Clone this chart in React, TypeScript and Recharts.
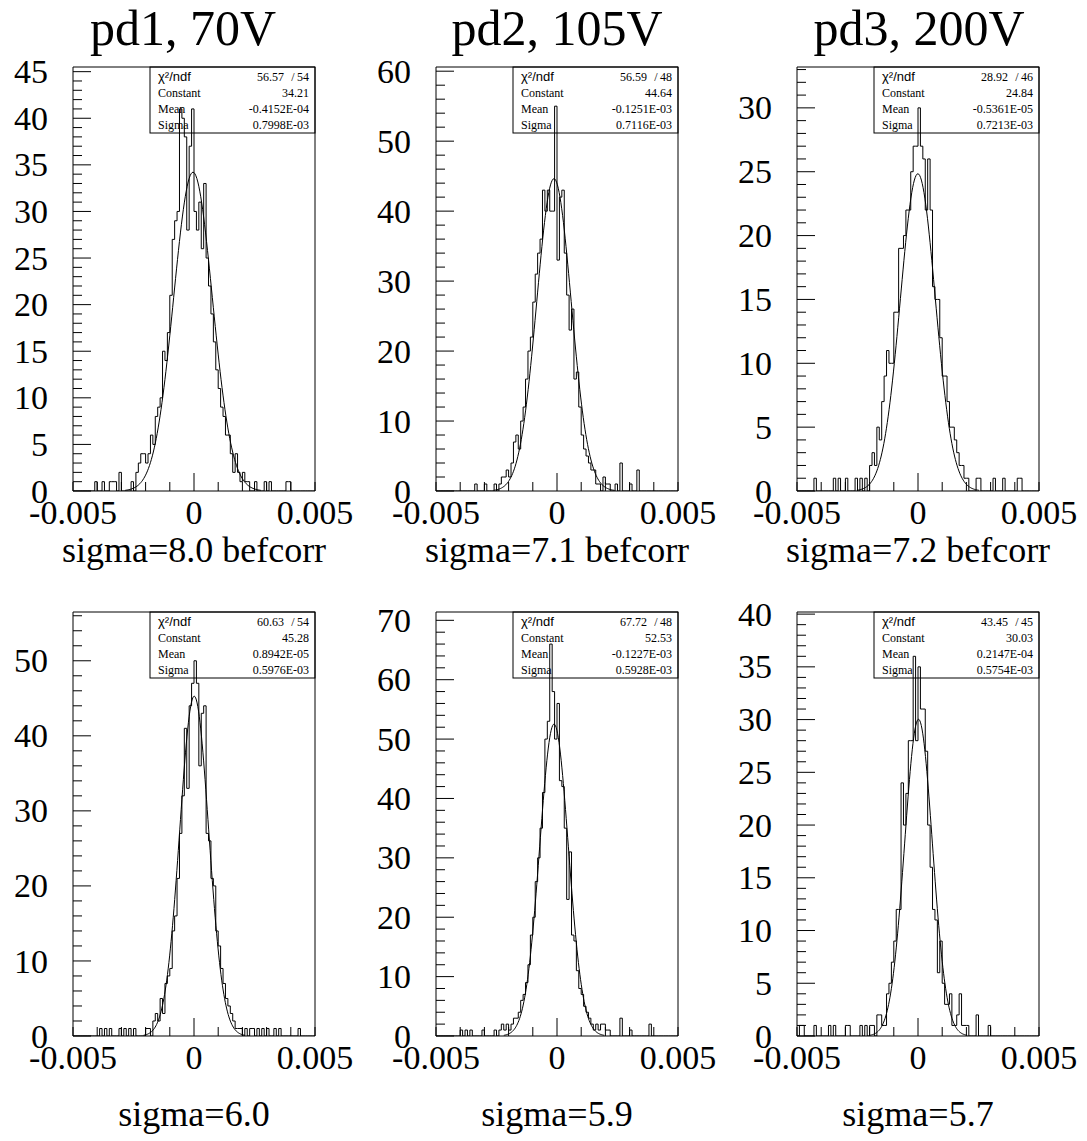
import React from 'react'
import { ComposedChart, Line, XAxis, YAxis, ReferenceArea } from 'recharts'

// bin contents, 100 bins of 0.0001 from -0.005 to 0.005
const pd1Before = [
  0, 0, 0, 0, 0, 0, 0, 0, 0, 1,
  0, 0, 1, 0, 0, 1, 1, 1, 0, 2,
  0, 0, 0, 0, 1, 0, 2, 3, 4, 4,
  3, 4, 6, 5, 8, 9, 10, 15, 14, 17,
  21, 27, 29, 30, 41, 40, 38, 28, 37, 41,
  30, 28, 31, 26, 33, 25, 22, 19, 16, 13,
  11, 9, 8, 6, 6, 4, 2, 4, 2, 1,
  2, 1, 1, 0, 0, 1, 0, 0, 0, 1,
  0, 1, 0, 0, 0, 0, 0, 0, 1, 1,
  0, 0, 0, 0, 0, 0, 0, 0, 0, 0,
]
const pd2Before = [
  0, 0, 0, 0, 0, 0, 0, 0, 0, 0,
  0, 0, 0, 0, 0, 0, 1, 0, 0, 0,
  1, 0, 0, 0, 1, 0, 1, 2, 2, 3,
  2, 4, 7, 8, 6, 10, 12, 16, 20, 22,
  27, 31, 34, 36, 43, 40, 43, 40, 40, 55,
  33, 42, 43, 34, 28, 23, 26, 16, 17, 12,
  8, 6, 5, 4, 3, 3, 1, 1, 0, 2,
  1, 1, 0, 0, 1, 0, 4, 0, 0, 0,
  1, 0, 0, 3, 0, 0, 0, 0, 0, 0,
  0, 0, 0, 0, 0, 0, 0, 0, 0, 0,
]
const pd3Before = [
  0, 0, 0, 0, 0, 0, 0, 1, 0, 0,
  0, 0, 0, 0, 0, 1, 0, 1, 0, 0,
  1, 0, 0, 0, 1, 0, 1, 0, 1, 0,
  2, 3, 2, 5, 4, 7, 9, 11, 10, 10,
  14, 14, 19, 19, 20, 22, 22, 25, 27, 27,
  30, 27, 26, 22, 26, 22, 16, 15, 15, 12,
  9, 9, 7, 5, 5, 4, 3, 2, 2, 1,
  1, 0, 0, 0, 1, 1, 0, 0, 0, 0,
  0, 1, 0, 0, 0, 1, 0, 0, 0, 0,
  0, 1, 1, 0, 0, 0, 0, 0, 0, 0,
]
const pd1After = [
  0, 0, 0, 0, 0, 0, 0, 0, 0, 0,
  0, 1, 0, 1, 0, 1, 0, 0, 0, 1,
  0, 1, 0, 1, 0, 1, 0, 0, 0, 0,
  1, 1, 0, 2, 3, 2, 5, 3, 7, 8,
  9, 14, 16, 21, 27, 32, 41, 33, 44, 47,
  50, 47, 36, 43, 44, 27, 26, 21, 20, 14,
  12, 9, 7, 5, 4, 3, 2, 1, 1, 1,
  0, 1, 0, 1, 1, 0, 1, 0, 1, 0,
  1, 0, 0, 1, 0, 1, 0, 0, 0, 0,
  0, 0, 0, 1, 0, 0, 0, 0, 0, 0,
]
const pd2After = [
  0, 0, 0, 0, 0, 0, 0, 0, 0, 0,
  1, 0, 1, 0, 1, 0, 0, 0, 0, 1,
  0, 0, 0, 0, 1, 0, 1, 2, 1, 2,
  1, 2, 3, 3, 4, 6, 7, 9, 12, 17,
  20, 26, 30, 35, 41, 50, 53, 66, 58, 50,
  56, 43, 42, 35, 23, 31, 17, 16, 11, 8,
  7, 5, 4, 3, 2, 1, 2, 1, 2, 2,
  1, 1, 0, 0, 0, 0, 3, 0, 0, 0,
  1, 0, 0, 0, 0, 0, 0, 0, 2, 0,
  0, 0, 0, 0, 0, 0, 0, 0, 0, 0,
]
const pd3After = [
  0, 1, 1, 0, 0, 0, 0, 1, 0, 0,
  0, 0, 0, 1, 0, 1, 0, 0, 0, 0,
  1, 1, 0, 0, 0, 0, 1, 0, 1, 0,
  1, 1, 0, 2, 2, 1, 1, 4, 5, 7,
  9, 12, 12, 24, 20, 23, 28, 28, 36, 28,
  35, 31, 31, 27, 20, 16, 12, 11, 6, 9,
  5, 3, 3, 4, 1, 1, 2, 4, 1, 1,
  1, 0, 0, 0, 2, 0, 0, 0, 0, 1,
  0, 0, 0, 0, 0, 0, 0, 0, 0, 0,
  0, 0, 0, 0, 0, 0, 0, 0, 0, 0,
]

const histograms = [pd1Before, pd2Before, pd3Before, pd1After, pd2After, pd3After]
const titles = ['pd1, 70V', 'pd2, 105V', 'pd3, 200V']
const titleCenters = [183, 557, 919]
const captions = ['sigma=8.0 befcorr', 'sigma=7.1 befcorr', 'sigma=7.2 befcorr', 'sigma=6.0', 'sigma=5.9', 'sigma=5.7']
const chi2 = ['56.57', '56.59', '28.92', '60.63', '67.72', '43.45']
const ndf = ['54', '48', '46', '54', '48', '45']
const constants = ['34.21', '44.64', '24.84', '45.28', '52.53', '30.03']
const means = ['-0.4152E-04', '-0.1251E-03', '-0.5361E-05', '0.8942E-05', '-0.1227E-03', '0.2147E-04']
const sigmas = ['0.7998E-03', '0.7116E-03', '0.7213E-03', '0.5976E-03', '0.5928E-03', '0.5754E-03']
const yMax = [45.5, 60.6, 33.2, 56.5, 71.4, 40.2]
const yMajorStep = [5, 10, 5, 10, 10, 5]
const yMinorStep = [1, 2, 1, 2, 2, 1]
const xTicks = [-0.005, -0.004, -0.003, -0.002, -0.001, 0, 0.001, 0.002, 0.003, 0.004, 0.005]

const X_MIN = -0.005
const X_MAX = 0.005
const BIN_W = 0.0001

// page geometry
const frameLefts = [73, 436, 797]
const frameTops = [67, 612]
const FRAME_W = 242
const FRAME_H = 424
const Y_W = 70
const M_TOP = 26
const M_RIGHT = 46
const X_H = 56
const SERIF = '"Liberation Serif", "Times New Roman", serif'
const SANS = '"Liberation Sans", Arial, sans-serif'

function xLabel(v: number) {
  if (Math.abs(v) < 1e-9) return '0'
  if (Math.abs(v + 0.005) < 1e-9) return '-0.005'
  if (Math.abs(v - 0.005) < 1e-9) return '0.005'
  return ''
}

function Panel({ idx }: { idx: number }) {
  const col = idx % 3
  const row = Math.floor(idx / 3)
  const counts = histograms[idx]
  const hist = counts.map((h, i) => ({ x: X_MIN + i * BIN_W, h }))
  hist.push({ x: X_MAX, h: counts[counts.length - 1] })

  // gaussian fit drawn from the fitted parameters in the stats box
  const A = parseFloat(constants[idx])
  const mu = parseFloat(means[idx])
  const sg = parseFloat(sigmas[idx])
  const fit = []
  for (let k = 0; k <= 140; k++) {
    const x = mu - 3.5 * sg + (7 * sg * k) / 140
    fit.push({ x, f: A * Math.exp(-0.5 * ((x - mu) / sg) ** 2) })
  }

  const ticksY: number[] = []
  for (let v = 0; v <= yMax[idx] + 1e-9; v += yMinorStep[idx]) ticksY.push(v)

  const plotBottom = M_TOP + FRAME_H

  const renderXTick = (props: any) => {
    const { x, payload } = props
    const v = payload.value
    const lab = xLabel(v)
    const len = lab === '0' ? 18 : 9
    return (
      <g>
        <line x1={x} y1={plotBottom} x2={x} y2={plotBottom - len} stroke="#000" strokeWidth={1} />
        {lab && (
          <text x={x} y={plotBottom + 33} textAnchor="middle" fontFamily={SERIF} fontSize={34} fill="#000">
            {lab}
          </text>
        )}
      </g>
    )
  }

  const renderYTick = (props: any) => {
    const { y, payload } = props
    const v = payload.value
    const major = Math.abs(v / yMajorStep[idx] - Math.round(v / yMajorStep[idx])) < 1e-6
    return (
      <g>
        <line x1={Y_W} y1={y} x2={Y_W + (major ? 18 : 9)} y2={y} stroke="#000" strokeWidth={1} />
        {major && (
          <text x={Y_W - 25} y={y} dy="0.34em" textAnchor="end" fontFamily={SERIF} fontSize={34} fill="#000">
            {Math.round(v)}
          </text>
        )}
      </g>
    )
  }

  return (
    <div style={{ position: 'absolute', left: frameLefts[col] - Y_W, top: frameTops[row] - M_TOP }}>
      <ComposedChart
        width={Y_W + FRAME_W + M_RIGHT}
        height={M_TOP + FRAME_H + X_H}
        margin={{ top: M_TOP, right: M_RIGHT, bottom: 0, left: 0 }}
      >
        <XAxis
          type="number"
          dataKey="x"
          domain={[X_MIN, X_MAX]}
          ticks={xTicks}
          interval={0}
          tick={renderXTick}
          tickLine={false}
          axisLine={false}
          height={X_H}
          allowDataOverflow
        />
        <YAxis
          type="number"
          domain={[0, yMax[idx]]}
          ticks={ticksY}
          interval={0}
          tick={renderYTick}
          tickLine={false}
          axisLine={false}
          width={Y_W}
          allowDataOverflow
        />
        <ReferenceArea x1={X_MIN} x2={X_MAX} y1={0} y2={yMax[idx]} fill="none" stroke="#000" strokeWidth={1} />
        <Line data={hist} dataKey="h" type="stepAfter" stroke="#000" strokeWidth={1} dot={false} isAnimationActive={false} />
        <Line data={fit} dataKey="f" type="linear" stroke="#000" strokeWidth={1} dot={false} isAnimationActive={false} />
      </ComposedChart>
    </div>
  )
}

function StatsBox({ idx }: { idx: number }) {
  const col = idx % 3
  const row = Math.floor(idx / 3)
  const right = frameLefts[col] + FRAME_W
  const left = frameLefts[col] + 77
  const top = frameTops[row]
  const fs = 12
  return (
    <g>
      <rect x={left} y={top} width={right - left} height={66} fill="none" stroke="#000" strokeWidth={1} />
      <text x={left + 8} y={top + 14} fontFamily={SANS} fontSize={13}>χ²/ndf</text>
      <text x={right - 31} y={top + 14} textAnchor="end" fontFamily={SERIF} fontSize={fs}>{chi2[idx]}</text>
      <text x={right - 22} y={top + 14} textAnchor="middle" fontFamily={SERIF} fontSize={fs}>/</text>
      <text x={right - 6} y={top + 14} textAnchor="end" fontFamily={SERIF} fontSize={fs}>{ndf[idx]}</text>
      <text x={left + 8} y={top + 30} fontFamily={SERIF} fontSize={fs}>Constant</text>
      <text x={right - 6} y={top + 30} textAnchor="end" fontFamily={SERIF} fontSize={fs}>{constants[idx]}</text>
      <text x={left + 8} y={top + 46} fontFamily={SERIF} fontSize={fs}>Mean</text>
      <text x={right - 6} y={top + 46} textAnchor="end" fontFamily={SERIF} fontSize={fs}>{means[idx]}</text>
      <text x={left + 8} y={top + 62} fontFamily={SERIF} fontSize={fs}>Sigma</text>
      <text x={right - 6} y={top + 62} textAnchor="end" fontFamily={SERIF} fontSize={fs}>{sigmas[idx]}</text>
    </g>
  )
}

export default function App() {
  const idxs = [0, 1, 2, 3, 4, 5]
  return (
    <div style={{ position: 'absolute', left: 0, top: 0, width: 1087, height: 1141, background: '#fff' }}>
      {idxs.map((i) => (
        <Panel key={i} idx={i} />
      ))}
      <svg width={1087} height={1141} style={{ position: 'absolute', left: 0, top: 0, pointerEvents: 'none' }}>
        {titles.map((t, i) => (
          <text key={t} x={titleCenters[i]} y={45} textAnchor="middle" fontFamily={SERIF} fontSize={50} fill="#000">
            {t}
          </text>
        ))}
        {captions.map((c, i) => (
          <text
            key={c}
            x={frameLefts[i % 3] + FRAME_W / 2}
            y={i < 3 ? 562 : 1126}
            textAnchor="middle"
            fontFamily={SERIF}
            fontSize={36}
            fill="#000"
          >
            {c}
          </text>
        ))}
        {idxs.map((i) => (
          <StatsBox key={i} idx={i} />
        ))}
      </svg>
    </div>
  )
}
